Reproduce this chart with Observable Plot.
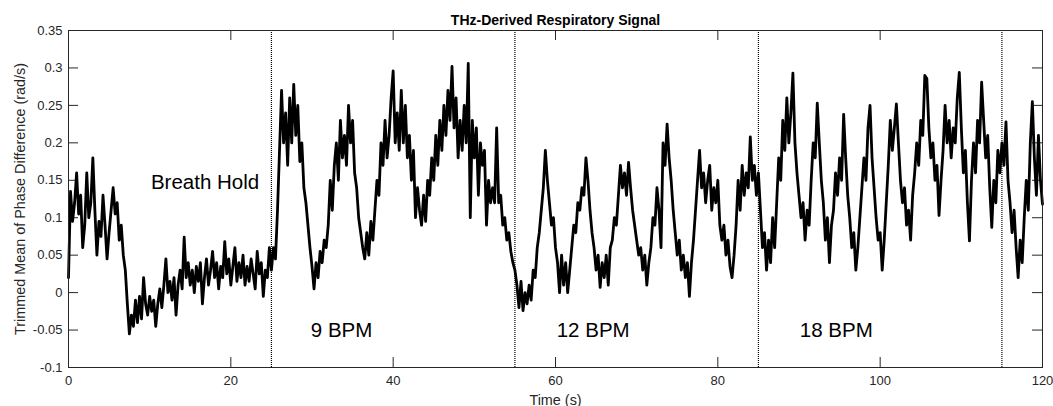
<!DOCTYPE html>
<html><head><meta charset="utf-8">
<script src="https://cdn.jsdelivr.net/npm/d3@7"></script>
<script src="https://cdn.jsdelivr.net/npm/@observablehq/plot@0.6"></script>
<style>body{margin:0;background:#fff} svg{display:block}</style>
</head><body><div id="chart"></div>
<script>
const sampleStep = 0.25; // seconds between samples, starting at t = 0

// Breath hold, t = 0 .. 25 s
const signalBreathHold = [
0.020,0.135,0.095,0.120,0.160,0.105,0.130,0.060,0.090,0.160,0.100,0.120,0.180,0.110,0.050,0.095,0.075,0.130,0.090,0.045,0.080,0.110,0.140,0.105,0.120,0.070,0.090,0.050,0.030,-0.015,-0.055,
-0.030,-0.045,-0.010,-0.040,-0.005,-0.035,0.020,-0.015,-0.030,-0.005,
-0.025,-0.010,-0.045,-0.015,0.005,-0.020,0.010,0.045,0.000,0.015,
-0.010,0.020,-0.030,0.010,0.030,0.005,0.074,0.020,0.040,0.010,
0.030,0.000,0.035,0.015,0.040,-0.015,0.020,0.045,0.010,0.030,
0.055,0.020,0.040,0.005,0.035,0.020,0.068,0.025,0.045,0.010,
0.035,0.060,0.015,0.040,0.020,0.050,0.010,0.035,0.015,0.045,
0.025,0.005,0.055,0.025,0.040,-0.005,0.030,0.020,0.060,0.030];

// 9 BPM, t = 25.25 .. 55 s
const signal9 = [
0.060,0.045,0.110,0.190,0.270,0.200,0.240,0.170,0.260,0.200,
0.278,0.210,0.250,0.175,0.200,0.140,0.120,0.090,0.060,0.035,
0.005,0.040,0.020,0.055,0.040,0.070,0.060,0.090,0.150,0.110,
0.170,0.200,0.150,0.230,0.180,0.210,0.170,0.250,0.200,0.230,
0.160,0.140,0.100,0.080,0.060,0.045,0.080,0.050,0.095,0.070,
0.110,0.150,0.130,0.200,0.170,0.230,0.180,0.210,0.260,0.296,
0.200,0.240,0.190,0.270,0.200,0.250,0.180,0.210,0.150,0.190,
0.100,0.140,0.110,0.090,0.130,0.095,0.150,0.130,0.180,0.150,
0.210,0.170,0.230,0.190,0.250,0.210,0.270,0.230,0.302,0.220,
0.260,0.180,0.230,0.190,0.250,0.200,0.306,0.100,0.230,0.180,
0.220,0.130,0.200,0.170,0.190,0.090,0.150,0.120,0.140,0.120,
0.220,0.120,0.130,0.090,0.100,0.070,0.080,0.055,0.040,0.030];

// 12 BPM, t = 55.25 .. 85 s
const signal12 = [
0.010,-0.020,0.015,-0.024,0.000,-0.015,0.010,-0.010,0.030,0.020,
0.060,0.080,0.110,0.140,0.190,0.150,0.120,0.090,0.100,0.060,
0.040,0.000,0.050,0.010,0.040,0.000,0.030,0.060,0.090,0.080,
0.120,0.110,0.140,0.130,0.180,0.150,0.110,0.080,0.060,0.030,
0.050,0.007,0.040,0.020,0.050,0.010,0.060,0.070,0.100,0.090,
0.130,0.170,0.140,0.160,0.130,0.174,0.140,0.110,0.090,0.070,
0.050,0.060,0.030,0.050,0.010,0.040,0.060,0.100,0.090,0.140,
0.110,0.060,0.200,0.170,0.225,0.180,0.150,0.110,0.080,0.050,
0.070,0.030,0.050,0.020,0.040,-0.005,0.040,0.070,0.110,0.150,
0.190,0.140,0.160,0.120,0.150,0.170,0.110,0.140,0.120,0.150,
0.090,0.070,0.090,0.050,0.070,0.035,0.020,0.050,0.090,0.150,
0.110,0.170,0.130,0.160,0.140,0.208,0.150,0.170,0.130,0.160];

// 18 BPM and after, t = 85.25 .. 120 s
const signal18 = [
0.110,0.060,0.080,0.030,0.070,0.040,0.100,0.060,0.120,0.180,
0.150,0.230,0.190,0.260,0.200,0.240,0.293,0.200,0.160,0.130,
0.100,0.120,0.070,0.110,0.090,0.150,0.200,0.180,0.253,0.200,
0.150,0.120,0.070,0.100,0.040,0.090,0.110,0.160,0.130,0.180,
0.150,0.238,0.180,0.130,0.100,0.060,0.080,0.030,0.060,0.100,
0.140,0.180,0.150,0.220,0.250,0.180,0.140,0.100,0.070,0.080,
0.030,0.070,0.120,0.170,0.230,0.190,0.220,0.252,0.200,0.150,
0.120,0.140,0.090,0.110,0.070,0.130,0.160,0.200,0.170,0.230,
0.210,0.290,0.286,0.220,0.180,0.200,0.150,0.170,0.103,0.150,
0.190,0.250,0.200,0.230,0.180,0.220,0.200,0.260,0.294,0.220,
0.160,0.190,0.120,0.069,0.150,0.200,0.160,0.230,0.200,0.281,
0.230,0.180,0.210,0.140,0.087,0.150,0.120,0.190,0.160,0.200,
0.170,0.228,0.150,0.120,0.080,0.110,0.060,0.020,0.070,0.040,
0.100,0.150,0.110,0.200,0.255,0.180,0.130,0.210,0.150,0.118];

const xTicks = [0, 20, 40, 60, 80, 100, 120];
const yTicks = [-0.1, -0.05, 0, 0.05, 0.1, 0.15, 0.2, 0.25, 0.3, 0.35];
const yTickLabels = ["-0.1", "-0.05", "0", "0.05", "0.1", "0.15", "0.2", "0.25", "0.3", "0.35"];
const phaseBoundaries = [25, 55, 85, 115];
const phaseLabels = ["Breath Hold", "9 BPM", "12 BPM", "18 BPM"];
const phaseLabelX = [10.15, 29.85, 60.15, 90.1];
const phaseLabelY = [0.147, -0.05, -0.05, -0.05];
const titleText = "THz-Derived Respiratory Signal";
const xLabel = "Time (s)";
const yLabel = "Trimmed Mean of Phase Difference (rad/s)";

const values = [...signalBreathHold, ...signal9, ...signal12, ...signal18];
const series = values.map((v, i) => ({t: i * sampleStep, v}));
const annotations = phaseLabels.map((label, i) => ({label, x: phaseLabelX[i], y: phaseLabelY[i]}));
const yLabelMap = new Map(yTicks.map((d, i) => [d, yTickLabels[i]]));

const W = 1053, H = 406, ML = 68, MR = 11, MT = 30, MB = 39;
const FW = W - ML - MR, FH = H - MT - MB, TICK = 10;
const ink = "#262626";
const font = "'Liberation Sans', Arial, Helvetica, sans-serif";

const chart = Plot.plot({
  width: W, height: H,
  marginLeft: ML, marginRight: MR, marginTop: MT, marginBottom: MB,
  style: {fontFamily: font, background: "#fff", overflow: "visible"},
  x: {domain: [0, 120]},
  y: {domain: [-0.1, 0.35]},
  marks: [
    Plot.axisX(xTicks, {anchor: "bottom", tickSize: 0, tickPadding: 8, fontSize: 13, color: ink, label: null, tickFormat: d => String(d)}),
    Plot.axisY(yTicks, {anchor: "left", tickSize: 0, tickPadding: 6, fontSize: 13, color: ink, label: null, tickFormat: d => yLabelMap.get(d)}),
    Plot.tickX(xTicks, {x: d => d, insetTop: FH - TICK, stroke: ink}),
    Plot.tickX(xTicks, {x: d => d, insetBottom: FH - TICK, stroke: ink}),
    Plot.tickY(yTicks, {y: d => d, insetRight: FW - TICK, stroke: ink}),
    Plot.tickY(yTicks, {y: d => d, insetLeft: FW - TICK, stroke: ink}),
    Plot.ruleX(phaseBoundaries, {stroke: "#000", strokeWidth: 1.2, strokeDasharray: "1,1"}),
    Plot.line(series, {x: "t", y: "v", stroke: "#000", strokeWidth: 2.8, strokeLinejoin: "round"}),
    Plot.text(annotations, {x: "x", y: "y", text: "label", textAnchor: "start", lineAnchor: "middle", fontSize: 20.5, fill: "#000"}),
    Plot.frame({stroke: ink, strokeWidth: 1}),
    Plot.text([titleText], {frameAnchor: "top", dy: -10, textAnchor: "middle", lineAnchor: "middle", fontSize: 14, fontWeight: "bold", fill: "#000"}),
    Plot.text([xLabel], {frameAnchor: "bottom", dy: 33, textAnchor: "middle", lineAnchor: "middle", fontSize: 14.4, fill: ink}),
    Plot.text([yLabel], {frameAnchor: "left", dx: -48, rotate: -90, textAnchor: "middle", lineAnchor: "middle", fontSize: 14.4, fill: ink})
  ]
});
document.getElementById("chart").appendChild(chart);
</script>
</body></html>
